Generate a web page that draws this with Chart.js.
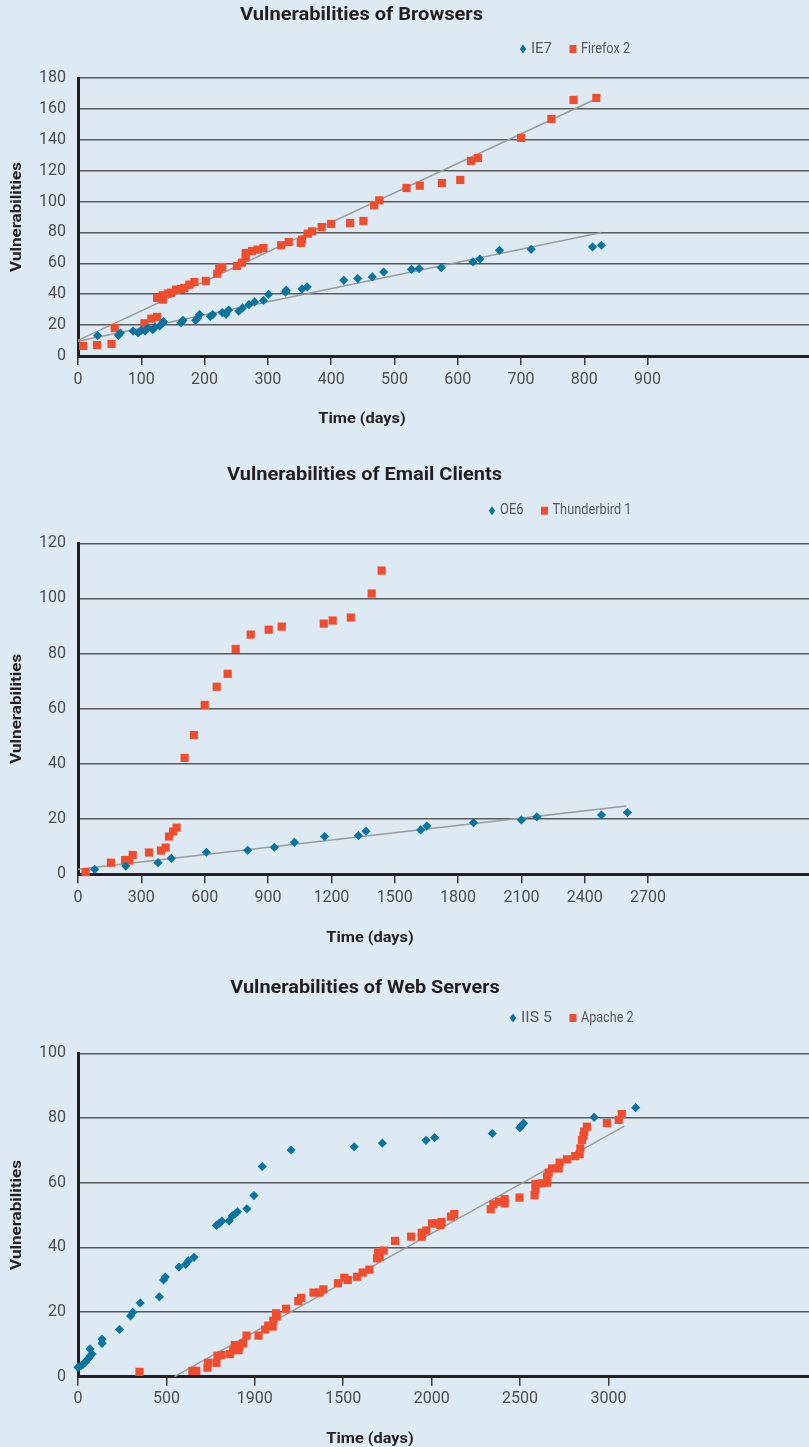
<!DOCTYPE html>
<html><head><meta charset="utf-8">
<script src="https://cdn.jsdelivr.net/npm/chart.js@4.4.1/dist/chart.umd.min.js"></script>
<style>
html,body{margin:0;padding:0;background:#ddeaf4;}
body{width:809px;height:1447px;position:relative;overflow:hidden;}
.box{position:absolute;left:0;width:809px;}
canvas{display:block;}
</style></head><body>
<div class="box" style="top:0;height:440px"><canvas id="c1" width="809" height="440"></canvas></div>
<div class="box" style="top:440px;height:515px"><canvas id="c2" width="809" height="515"></canvas></div>
<div class="box" style="top:955px;height:492px"><canvas id="c3" width="809" height="492"></canvas></div>
<script>
// ---------- DATA ----------
const chartTitles = ['Vulnerabilities of Browsers', 'Vulnerabilities of Email Clients', 'Vulnerabilities of Web Servers'];
const yAxisTitle = 'Vulnerabilities';
const xAxisTitle = 'Time (days)';

// Browsers
const ie7Label = 'IE7';
const ie7Days = [31,64,67,87,95,100,106,110,118,122,129,134,135,163,166,186,189,192,209,213,228,234,238,254,260,270,279,293,301,328,329,354,362,420,442,465,483,527,539,574,624,635,666,716,813,827];
const ie7Vulns = [13.2,13.4,14.9,16.2,14.9,16.6,16.2,18.1,17,18.8,19.4,21.4,22.2,21.6,23.1,23.1,24.6,26.8,25.7,26.8,28.1,27,29.8,29.1,31.1,33.2,35,36,39.9,41.4,42.5,43.4,44.7,49,50.1,51.2,54.4,56.1,56.6,57.2,60.9,62.8,68.4,69.1,70.6,71.7];
const firefoxLabel = 'Firefox 2';
const firefoxDays = [8,30,53,58,105,116,125,125,134,134,142,147,155,163,168,176,184,202,220,223,228,251,259,265,265,275,284,293,321,333,352,354,363,370,385,400,430,451,468,476,519,540,575,604,621,632,700,748,783,819];
const firefoxVulns = [6.5,7.1,7.8,18.1,21.2,24.2,25.3,37.6,36.5,39.3,40.4,41,43,43.4,44,46.2,47.9,48.6,53.3,56.5,57.6,58.3,60.4,64,66.7,68,68.9,69.9,71.7,73.8,73.2,75.3,79.2,80.7,83.5,85.5,86.1,87.4,97.6,100.8,108.8,110.3,112,114,126.3,128.2,141.2,153.5,165.8,167.1];
const ie7TrendDays = [0, 827];
const ie7TrendVulns = [9.5, 79.9];
const firefoxTrendDays = [0, 814];
const firefoxTrendVulns = [10.1, 165.6];
const browserXTicks = [0,100,200,300,400,500,600,700,800,900];
const browserXLabels = ['0','100','200','300','400','500','600','700','800','900'];

// Email clients
const oe6Label = 'OE6';
const oe6Days = [79,226,379,442,608,804,930,1025,1168,1328,1364,1623,1652,1873,2100,2173,2479,2602];
const oe6Vulns = [1.8,3,4.2,5.8,8,8.7,9.8,11.6,13.7,14,15.6,16.1,17.5,18.7,19.7,20.8,21.5,22.4];
const tbLabel = 'Thunderbird 1';
const tbDays = [36,156,223,242,259,336,393,415,431,450,467,505,549,600,657,709,747,818,903,965,1164,1206,1292,1391,1438];
const tbVulns = [0.8,4.2,5.2,5,7,7.9,8.6,9.7,13.7,15.5,16.9,42.2,50.5,61.4,68,72.7,81.7,86.9,88.7,89.8,90.9,92,93.1,101.8,110.1];
const oe6TrendDays = [0, 2597];
const oe6TrendVulns = [1.8, 24.8];
const emailXTicks = [0,300,600,900,1200,1500,1800,2100,2400,2700];
const emailXLabels = ['0','300','600','900','1200','1500','1800','2100','2400','2700'];

// Web servers
const iisLabel = 'IIS 5';
const iisDays = [0,17,30,42,51,60,68,79,68,136,136,235,297,310,352,460,484,494,571,609,624,656,783,798,813,855,872,887,902,955,995,1042,1205,1562,1721,1968,2017,2343,2499,2508,2520,2919,3154];
const iisVulns = [2.9,3.4,3.9,4.5,5.2,5.7,6.4,7,8.6,10.3,11.6,14.6,18.8,19.9,22.8,24.7,29.9,30.8,33.9,34.7,35.8,36.9,46.8,47.4,48.1,48.2,49.7,50.3,51,51.9,56,65,70.1,71.1,72.2,73.1,73.9,75.2,77,77.6,78.4,80.2,83.2];
const apacheLabel = 'Apache 2';
const apacheDays = [348,647,669,732,736,783,789,811,859,878,887,908,912,934,953,1021,1059,1076,1101,1105,1120,1124,1177,1246,1262,1332,1366,1388,1470,1506,1526,1578,1610,1648,1691,1697,1706,1729,1793,1884,1944,1944,1970,2002,2023,2049,2056,2109,2128,2334,2349,2381,2413,2413,2497,2582,2587,2587,2625,2653,2653,2662,2681,2719,2724,2765,2812,2837,2841,2850,2859,2863,2878,2991,3058,3075];
const apacheVulns = [1.5,1.8,1.8,2.8,4.3,4.3,6.5,6.7,7,8.2,9.8,8.2,9.3,10.3,12.7,12.7,14.6,15.8,15.5,17.3,19.6,18.6,21,23.4,24.4,26,26,27,28.9,30.6,29.9,30.9,32.2,33.1,36.6,38.4,37.1,39,42,43.3,43.3,44.5,45.2,47.4,47.4,46.9,47.8,49.5,50.3,51.8,53.3,54.1,54.9,53.6,55.4,56.1,57.9,59.6,59.8,60,61.9,63.1,64.4,64.4,66.2,67.2,68.2,68.8,70.6,73.2,74.5,75.8,77.3,78.4,79.4,81.2];
const apacheTrendDays = [545, 3090];
const apacheTrendVulns = [0, 77.5];
const serverXTicks = [0,500,1000,1500,2000,2500,3000];
const serverXLabels = ['0','500','1900','1500','2000','2500','3000'];

// ---------- STYLE / DRAWING ----------
const BLUE = '#0a74a0';
const RED = '#f04d2f';
const pts = (xs, ys) => xs.map((x, i) => ({x, y: ys[i]}));

function fitText(ctx, text, x, y, font, color, width, rot) {
  ctx.save();
  ctx.font = font;
  const w = ctx.measureText(text).width;
  ctx.translate(x, y);
  if (rot) ctx.rotate(-Math.PI / 2);
  ctx.scale(width / w, 1);
  ctx.fillStyle = color;
  ctx.textAlign = 'center';
  ctx.textBaseline = 'middle';
  ctx.fillText(text, 0, 0);
  ctx.restore();
}

const textPlugin = {
  id: 'texts',
  afterDraw(chart, args, o) {
    const ctx = chart.ctx;
    fitText(ctx, o.title, o.titleX, o.titleY, 'bold 18px Roboto', '#231f20', o.titleW);
    fitText(ctx, yAxisTitle, 17.5, (chart.chartArea.top + chart.chartArea.bottom) / 2, 'bold 15px Roboto', '#231f20', 110, true);
    fitText(ctx, xAxisTitle, o.xtX, o.xtY, 'bold 15px Roboto', '#231f20', 87.5);
    // legend
    const ds = chart.data.datasets.filter(d => d.legendShape);
    let x = o.legX;
    const y = o.legY;
    ds.forEach((d, i) => {
      ctx.save();
      ctx.fillStyle = d.backgroundColor;
      if (d.legendShape === 'diamond') {
        ctx.beginPath();
        ctx.moveTo(x, y - 4.5); ctx.lineTo(x + 3.2, y); ctx.lineTo(x, y + 4.5); ctx.lineTo(x - 3.2, y);
        ctx.closePath(); ctx.fill();
      } else {
        ctx.fillRect(x - 3.5, y - 4, 7, 8);
      }
      ctx.restore();
      const tw = o.legW[i];
      fitText(ctx, d.label, x + 8 + tw / 2, y, '14px Roboto', '#58595b', tw);
      x = x + 8 + tw + 21;
    });
  }
};

function build(id, c) {
  return new Chart(document.getElementById(id), {
    type: 'scatter',
    data: { datasets: [
      { type: 'line', data: pts(c.t1x, c.t1y), borderColor: '#9b9b9b', borderWidth: 1.5, pointRadius: 0, fill: false, order: 3, clip: false },
      ...(c.t2x ? [{ type: 'line', data: pts(c.t2x, c.t2y), borderColor: '#9b9b9b', borderWidth: 1.5, pointRadius: 0, fill: false, order: 3, clip: false }] : []),
      { label: c.l1, legendShape: 'diamond', data: pts(c.x1, c.y1), pointStyle: 'rectRot', pointRadius: 4.6, backgroundColor: BLUE, borderColor: BLUE, borderWidth: 0, order: 1, clip: false },
      { label: c.l2, legendShape: 'square', data: pts(c.x2, c.y2), pointStyle: 'rect', pointRadius: 5.8, backgroundColor: RED, borderColor: RED, borderWidth: 0, order: 2, clip: false }
    ]},
    options: {
      responsive: false, animation: false, events: [],
      layout: { autoPadding: false, padding: { top: c.areaTop, left: 0, right: 0, bottom: 0 } },
      plugins: { legend: { display: false }, tooltip: { enabled: false }, title: { display: false }, texts: c.texts },
      scales: {
        x: {
          type: 'linear', position: 'bottom', min: 0, max: c.xMax,
          afterBuildTicks: s => { s.ticks = c.xTicks.map(v => ({ value: v })); },
          afterFit: s => { s.height = c.xHeight; },
          ticks: { autoSkip: false, maxRotation: 0, padding: c.xPad, color: '#4d4d4f', font: { family: 'Roboto', size: 16 },
                   callback: (v, i) => c.xLabels[i] },
          grid: { drawOnChartArea: false, drawTicks: true, tickLength: 9, color: '#3a3a3a', lineWidth: 1.5 },
          border: { display: true, color: '#231f20', width: 3 }
        },
        y: {
          type: 'linear', min: 0, max: c.yMax,
          afterFit: s => { s.width = 78; },
          ticks: { stepSize: c.yStep, padding: 12, color: '#4d4d4f', font: { family: 'Roboto', size: 16 } },
          grid: { drawTicks: false, color: '#5a5a5a', lineWidth: 1.5 },
          border: { display: true, color: '#231f20', width: 3 }
        }
      }
    },
    plugins: [textPlugin]
  });
}

build('c1', {
  areaTop: 78, xHeight: 84, xPad: 5, xMax: 1155, yMax: 180, yStep: 20,
  xTicks: browserXTicks, xLabels: browserXLabels,
  t1x: firefoxTrendDays, t1y: firefoxTrendVulns, t2x: ie7TrendDays, t2y: ie7TrendVulns,
  l1: ie7Label, x1: ie7Days, y1: ie7Vulns, l2: firefoxLabel, x2: firefoxDays, y2: firefoxVulns,
  texts: { title: chartTitles[0], titleX: 361.5, titleY: 15, titleW: 243, xtX: 362, xtY: 419, legX: 523, legY: 49, legW: [21, 49] }
});
build('c2', {
  areaTop: 103.3, xHeight: 80.7, xPad: 5, xMax: 3462, yMax: 120, yStep: 20,
  xTicks: emailXTicks, xLabels: emailXLabels,
  t1x: oe6TrendDays, t1y: oe6TrendVulns,
  l1: oe6Label, x1: oe6Days, y1: oe6Vulns, l2: tbLabel, x2: tbDays, y2: tbVulns,
  texts: { title: chartTitles[1], titleX: 364.5, titleY: 35.7, titleW: 275, xtX: 370, xtY: 498, legX: 492, legY: 70.7, legW: [23.5, 79] }
});
build('c3', {
  areaTop: 98.3, xHeight: 70.3, xPad: 4, xMax: 4134, yMax: 100, yStep: 20,
  xTicks: serverXTicks, xLabels: serverXLabels,
  t1x: apacheTrendDays, t1y: apacheTrendVulns,
  l1: iisLabel, x1: iisDays, y1: iisVulns, l2: apacheLabel, x2: apacheDays, y2: apacheVulns,
  texts: { title: chartTitles[2], titleX: 365, titleY: 33, titleW: 269.5, xtX: 370, xtY: 484, legX: 513, legY: 63, legW: [31, 52.5] }
});
</script>
</body></html>
